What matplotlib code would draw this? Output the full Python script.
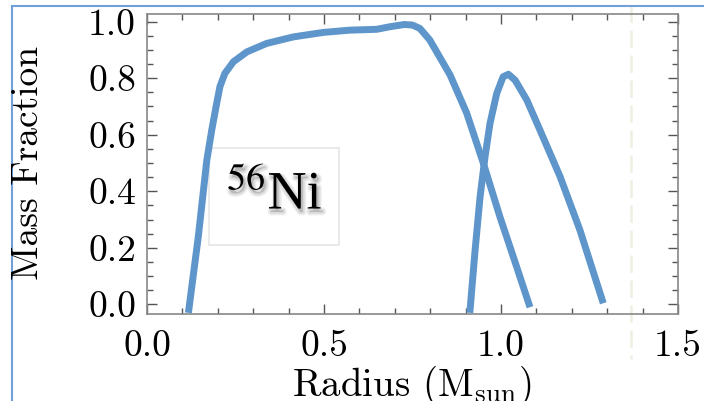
import matplotlib
matplotlib.use("Agg")
import matplotlib.pyplot as plt
import matplotlib.patheffects as pe
from matplotlib.patches import Rectangle
from matplotlib.lines import Line2D
from matplotlib.ticker import MultipleLocator

# curva principal de 56Ni
radio_a = [0.117, 0.145, 0.169, 0.183, 0.197, 0.206, 0.220, 0.244, 0.282, 0.338, 0.413,
           0.498, 0.573, 0.649, 0.686, 0.727, 0.750, 0.771, 0.799, 0.837, 0.856, 0.903,
           0.950, 0.997, 1.044, 1.082]
fraccion_a = [-0.03, 0.24, 0.51, 0.617, 0.712, 0.77, 0.817, 0.858, 0.893, 0.923, 0.946,
              0.962, 0.970, 0.973, 0.982, 0.990, 0.988, 0.976, 0.935, 0.853, 0.812, 0.677,
              0.50, 0.31, 0.134, -0.01]

# segunda curva
radio_b = [0.912, 0.927, 0.941, 0.955, 0.969, 0.988, 1.006, 1.021, 1.040, 1.073, 1.110,
           1.167, 1.223, 1.289]
fraccion_b = [-0.03, 0.193, 0.381, 0.522, 0.640, 0.746, 0.805, 0.814, 0.793, 0.723, 0.617,
              0.452, 0.263, 0.004]

x_ticks = [0.0, 0.5, 1.0, 1.5]
y_ticks = [0.0, 0.2, 0.4, 0.6, 0.8, 1.0]
limite = 1.367

color = "#5e95cb"

plt.rcParams["font.family"] = "cmr10"
plt.rcParams["mathtext.fontset"] = "cm"

fig = plt.figure(figsize=(7.04, 4.01), dpi=100)
ax = fig.add_axes([0.2088, 0.217, 0.963 - 0.2088, 0.965 - 0.217])

ax.plot(radio_a, fraccion_a, color=color, lw=5, solid_capstyle="butt", solid_joinstyle="round")
ax.plot(radio_b, fraccion_b, color=color, lw=5, solid_capstyle="butt", solid_joinstyle="round")

# linea vertical punteada clarita
ax.plot([limite, limite], [1.03, -0.15], color="#efeee2", lw=1.8, ls=(0, (7, 3)),
        transform=ax.get_xaxis_transform(), clip_on=False)

ax.set_xlim(0, 1.5)
ax.set_ylim(-0.034, 1.027)
ax.set_xticks(x_ticks)
ax.set_yticks(y_ticks)
ax.set_xticklabels([f"{v:.1f}" for v in x_ticks])
ax.set_yticklabels([f"{v:.1f}" for v in y_ticks])
ax.xaxis.set_minor_locator(MultipleLocator(0.1))
ax.yaxis.set_minor_locator(MultipleLocator(0.05))
ax.tick_params(which="both", direction="in", top=True, right=True, colors="#555555",
               labelcolor="black", labelsize=27)
ax.tick_params(which="major", length=7, width=1)
ax.tick_params(which="minor", length=4, width=1)
ax.tick_params(axis="x", pad=11)
ax.tick_params(axis="y", pad=8)
for s in ax.spines.values():
    s.set_color("#888888")
    s.set_linewidth(1.2)

# caja con la etiqueta, sombra suave hecha con varias capas
ax.add_patch(Rectangle((0.175, 0.21), 0.367, 0.343, fill=False, edgecolor="#e6e6e6", lw=1.2))
sombra = [pe.Stroke(linewidth=w, foreground="#000000", alpha=0.05, offset=(1.5, -2.5))
          for w in (5, 3.5, 2)]
ax.text(0.36, 0.385, r"$^{56}$Ni", fontsize=39, family="Liberation Serif", math_fontfamily="stix",
        ha="center", va="center", path_effects=sombra + [pe.Normal()])

fig.text(28 / 704, 1 - 163 / 401, "Mass Fraction", rotation=90, ha="center", va="center", fontsize=27)
fig.text(412 / 704, 5 / 401, r"Radius ($\mathrm{M}_{\mathrm{sun}}$)", ha="center", va="baseline",
         fontsize=28)

# marco azul del recorte
fig.add_artist(Line2D([12 / 704, 12 / 704], [0, 1 - 6 / 401], color="#6fa0d8", lw=1.5))
fig.add_artist(Line2D([12 / 704, 1], [1 - 6 / 401, 1 - 6 / 401], color="#6fa0d8", lw=1.5))

fig.savefig("out.png", dpi=100)
